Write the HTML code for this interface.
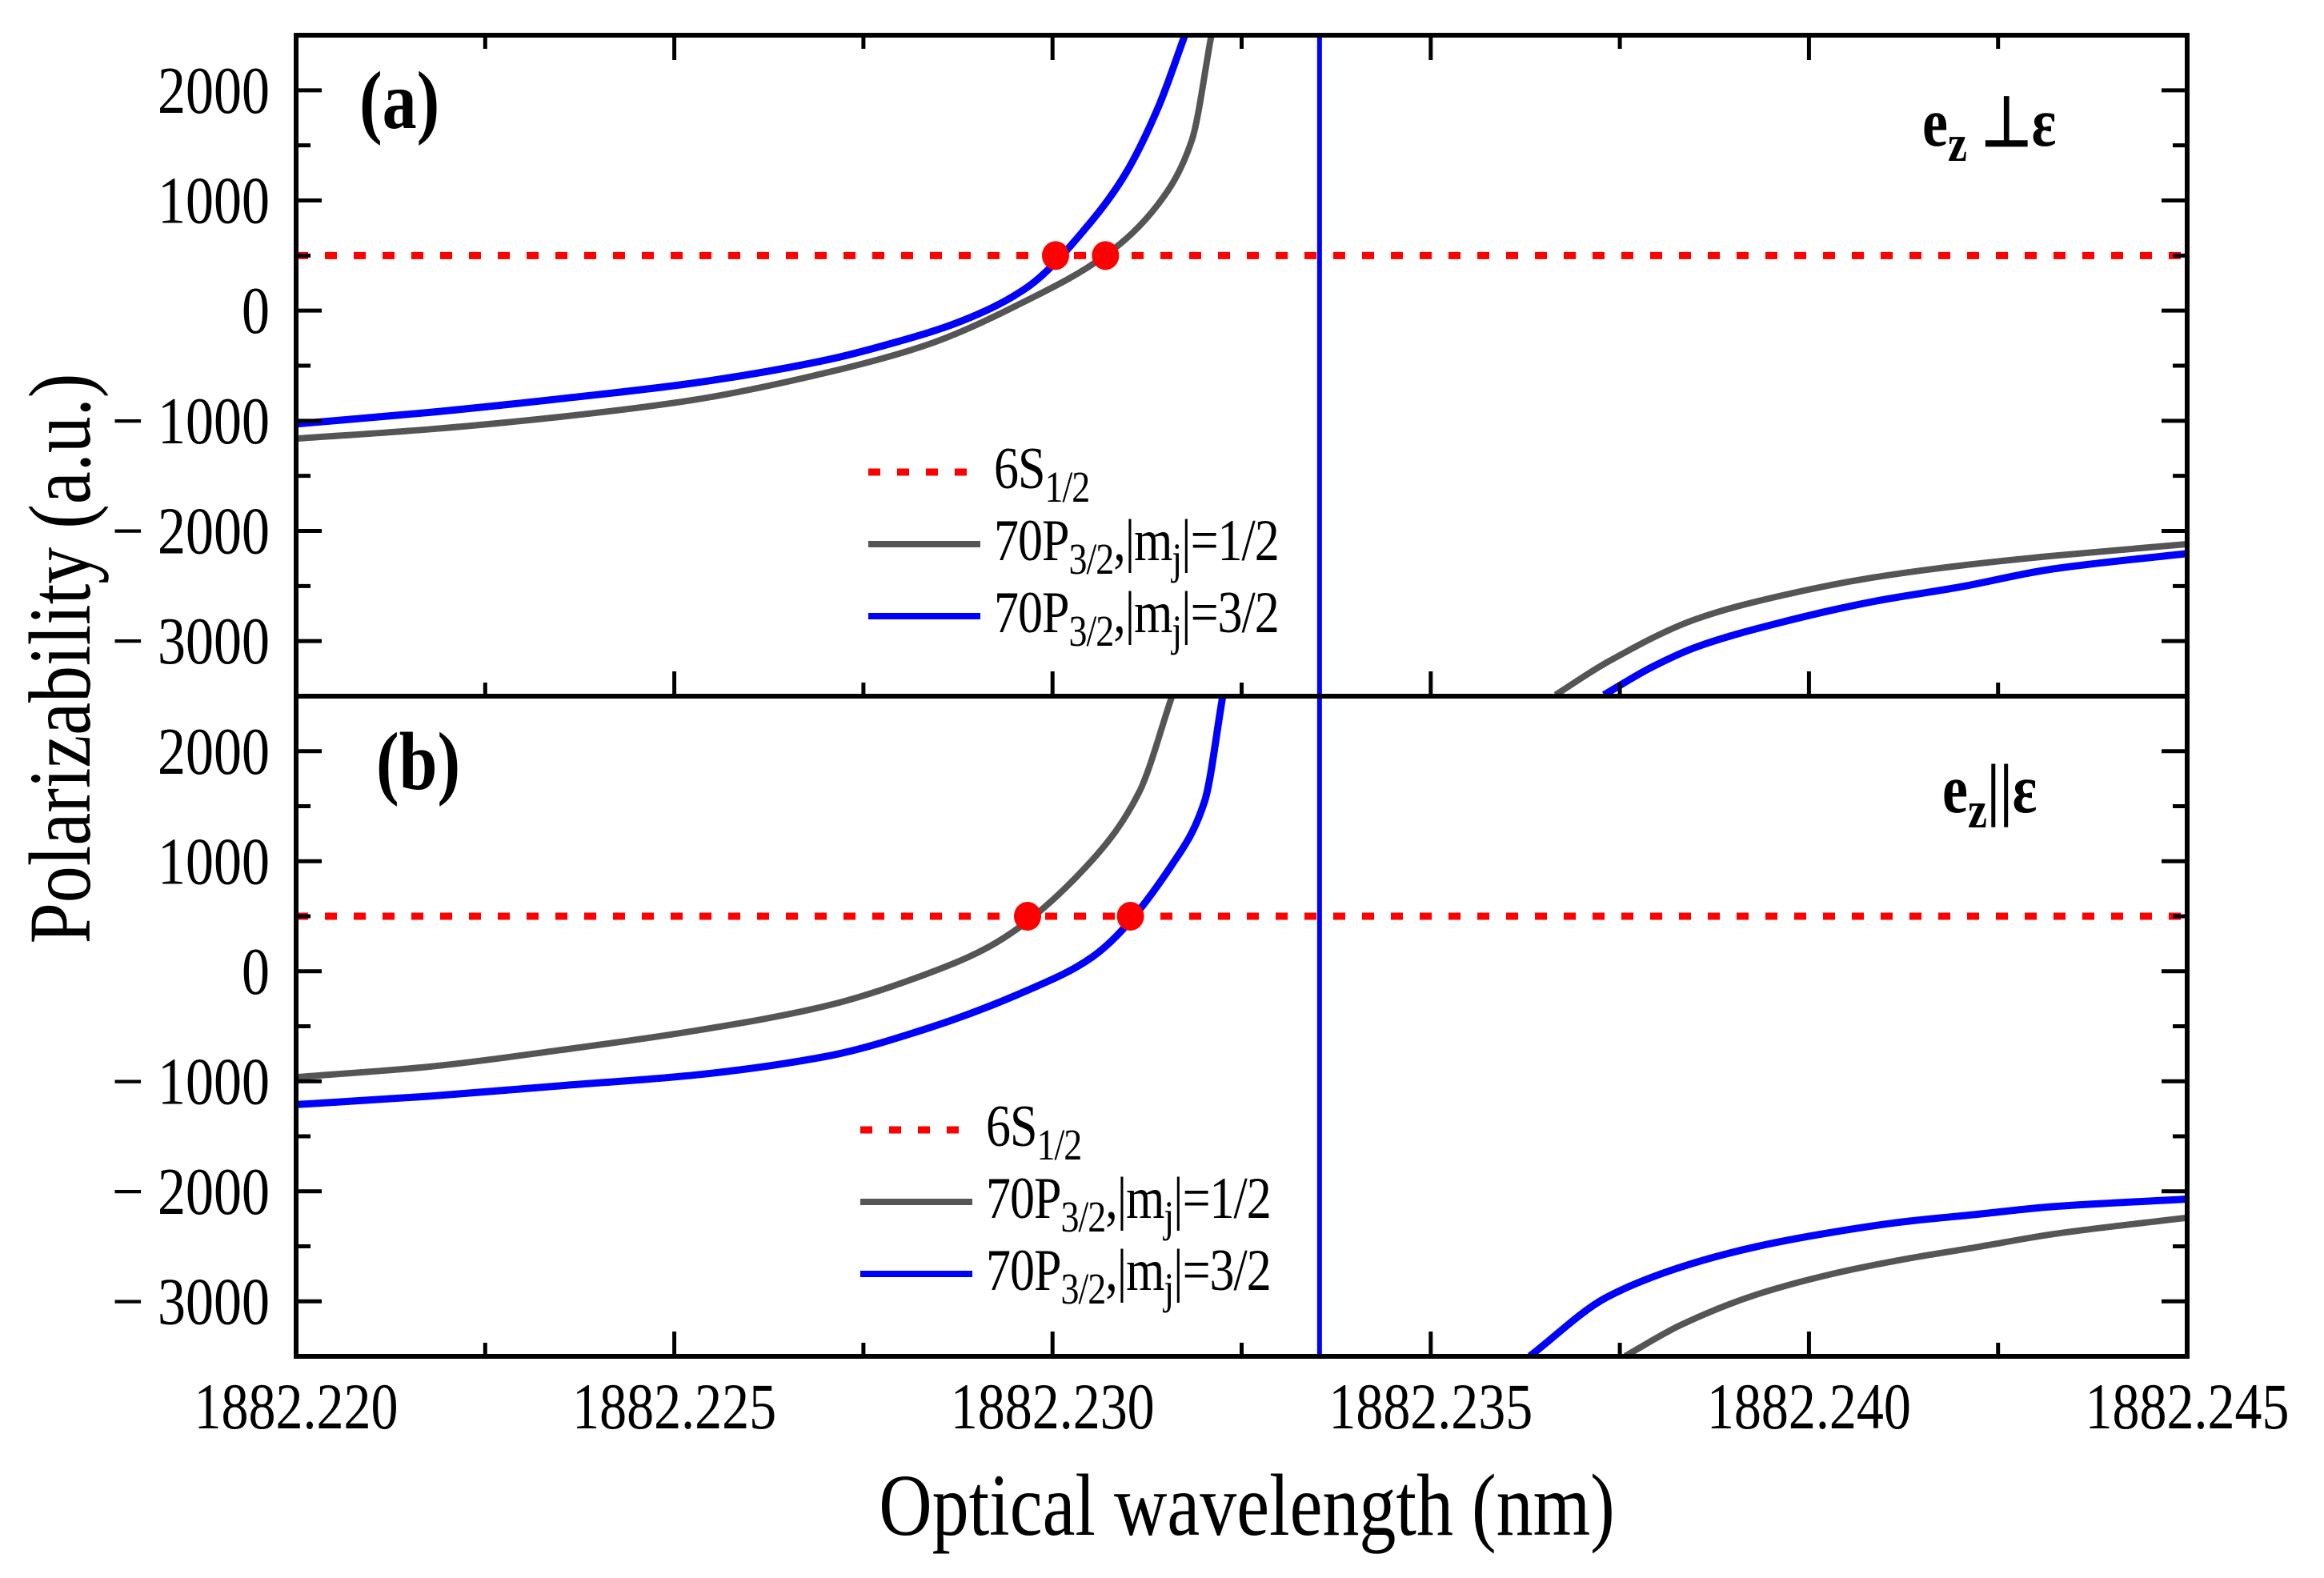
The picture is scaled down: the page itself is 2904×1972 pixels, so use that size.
<!DOCTYPE html>
<html><head><meta charset="utf-8"><style>
html,body{margin:0;padding:0;background:#fff;}
svg{display:block;font-family:"Liberation Serif",serif;}
</style></head><body>
<svg id="chart" width="2904" height="1972" viewBox="0 0 2904 1972" xmlns="http://www.w3.org/2000/svg">
<defs>
<clipPath id="clipA"><rect x="370" y="44" width="2363" height="826"/></clipPath>
<clipPath id="clipB"><rect x="370" y="870" width="2363" height="825"/></clipPath>
</defs>
<g id="root"></g>
</svg>
<script>
// ---- data (wavelength offsets from 1882.220 nm, polarizability in a.u.) ----
const xTickLabels = ["1882.220","1882.225","1882.230","1882.235","1882.240","1882.245"];
const xTickValues = [0,0.005,0.010,0.015,0.020,0.025];
const yTickValues = [2000,1000,0,-1000,-2000,-3000];
const yTickLabels = ["2000","1000","0","\u2212 1000","\u2212 2000","\u2212 3000"];
const groundLevel = 500;
const resonanceX = 0.01353;
// panel (a) e_z ⟂ ε
const aGrayLeftX = [0,0.00175,0.00351,0.00526,0.00702,0.00833,0.00965,0.0107,0.0114,0.01184,0.0121];
const aGrayLeftY = [-1162,-1078,-963,-810,-562,-313,89,502,969,1543,2500];
const aBlueLeftX = [0,0.00175,0.00351,0.00526,0.00702,0.00789,0.00877,0.00965,0.01052,0.01096,0.0114,0.01175];
const aBlueLeftY = [-1029,-925,-799,-657,-447,-294,-102,204,816,1237,1849,2500];
const aGrayRightX = [0.01665,0.01735,0.01852,0.01968,0.02085,0.02201,0.02318,0.025];
const aGrayRightY = [-3488,-3185,-2797,-2580,-2423,-2314,-2229,-2120];
const aBlueRightX = [0.01729,0.01793,0.01852,0.01968,0.02085,0.02201,0.02318,0.025];
const aBlueRightY = [-3488,-3234,-3052,-2822,-2641,-2507,-2350,-2205];
const aDotsX = [0.01004,0.0107];
// panel (b) e_z ∥ ε
const bGrayLeftX = [0,0.00175,0.00351,0.00526,0.00702,0.00833,0.00921,0.01052,0.01114,0.01158];
const bGrayLeftY = [-963,-868,-715,-542,-313,-26,242,1007,1620,2500];
const bBlueLeftX = [0,0.00175,0.00351,0.00526,0.00702,0.00833,0.00965,0.01052,0.01158,0.01201,0.01225];
const bBlueLeftY = [-1212,-1136,-1040,-944,-772,-523,-179,127,969,1543,2500];
const bGrayRightX = [0.01757,0.01831,0.0193,0.02027,0.02125,0.02224,0.02321,0.025];
const bGrayRightY = [-3498,-3214,-2940,-2757,-2619,-2505,-2391,-2240];
const bBlueRightX = [0.01631,0.01733,0.01831,0.0193,0.02027,0.02125,0.02224,0.02321,0.025];
const bBlueRightY = [-3498,-2962,-2688,-2504,-2377,-2277,-2208,-2140,-2071];
const bDotsX = [0.00967,0.01103];

const NS="http://www.w3.org/2000/svg";
const root=document.getElementById('root');
const L=370,R=2733;
function xs(v){return L+(v/0.025)*(R-L);}
function mkY(top,bot){return v=>top+(2500-v)/6000*(bot-top);}
function el(tag,attrs,parent){const e=document.createElementNS(NS,tag);for(const k in attrs)e.setAttribute(k,attrs[k]);(parent||root).appendChild(e);return e;}
// monotone cubic (Fritsch–Carlson) in pixel space
function pathD(X,Y,ys){
  const px=X.map(xs), py=Y.map(ys), n=px.length;
  const d=[],m=new Array(n);
  for(let i=0;i<n-1;i++) d.push((py[i+1]-py[i])/(px[i+1]-px[i]));
  m[0]=d[0]; m[n-1]=d[n-2];
  for(let i=1;i<n-1;i++){
    if(d[i-1]*d[i]<=0) m[i]=0;
    else { const h0=px[i]-px[i-1],h1=px[i+1]-px[i];
      const w1=2*h1+h0,w2=h1+2*h0; m[i]=(w1+w2)/(w1/d[i-1]+w2/d[i]); }
  }
  let s="M"+px[0]+","+py[0];
  for(let i=0;i<n-1;i++){
    const h=px[i+1]-px[i];
    s+=" C"+(px[i]+h/3)+","+(py[i]+m[i]*h/3)+" "+(px[i+1]-h/3)+","+(py[i+1]-m[i+1]*h/3)+" "+px[i+1]+","+py[i+1];
  }
  return s;
}
function stretched(x,y,attrs,content,name,parent,html){
  const t=el('text',Object.assign({x:0,y:0,transform:'translate('+x+','+y+') scale(1,1.2)'},attrs),parent);
  if(html) t.innerHTML=content; else t.textContent=content;
  
  
  return t;
}
function panel(id,top,bot,series,dots,label,labelY,polText,polX,polY,legX,legY,topTicks){
  const ys=mkY(top,bot);
  const g=el('g',{'clip-path':'url(#clip'+id+')'});
  
  
  const red=el('line',{x1:L,x2:R,y1:ys(groundLevel),y2:ys(groundLevel),stroke:'#ff0000','stroke-width':9,'stroke-dasharray':'15 21'},g);
  
  
  const vl=el('line',{x1:xs(resonanceX),x2:xs(resonanceX),y1:ys(2500),y2:ys(-3500),stroke:'#0000ff','stroke-width':6},g);
  
  
  series.forEach(s=>{
    const p=el('path',{d:pathD(s.x,s.y,ys),fill:'none',stroke:s.c,'stroke-width':s.w},g);
    
    
  });
  dots.forEach(dx=>{
    const c=el('ellipse',{cx:xs(dx),cy:ys(groundLevel),rx:17,ry:18,fill:'#ff0000'},g);
    
    
  });
  const fr=el('rect',{x:L,y:top,width:R-L,height:bot-top,fill:'none',stroke:'#000','stroke-width':6});
  
  
  for(let i=0;i<=10;i++){
    const x=xs(i*0.0025),len=i%2===0?31:17;
    const t=el('line',{x1:x,x2:x,y1:bot,y2:bot-len,stroke:'#000','stroke-width':5});
    
    
    if(topTicks){
      const t2=el('line',{x1:x,x2:x,y1:top,y2:top+len,stroke:'#000','stroke-width':5});
      
      
    }
  }
  for(let v=-3000;v<=2000;v+=500){
    const y=ys(v),len=(v%1000===0)?32:18;
    const t=el('line',{x1:L,x2:L+len,y1:y,y2:y,stroke:'#000','stroke-width':5});
    
    
    const t2=el('line',{x1:R,x2:R-len,y1:y,y2:y,stroke:'#000','stroke-width':5});
    
    
  }
  yTickValues.forEach((v,i)=>{
    stretched(337,ys(v)+28,{'text-anchor':'end','font-size':70},yTickLabels[i],'y-tick-label');
  });
  stretched(label[1],labelY,{'font-size':86,'font-weight':'bold'},label[0],'panel-label');
  stretched(polX,polY,{'font-size':72,'font-weight':'bold'},polText,'polarization-label',null,true);
  const lg=el('g',{});
  
  
  const rows=[['#ff0000','15 21',9,'6S','<tspan dy="14" font-size="46">1/2</tspan>'],
              ['#555555','',8,'70P','<tspan dy="14" font-size="46">3/2</tspan><tspan dy="-14">,|m</tspan><tspan dy="14" font-size="46">j</tspan><tspan dy="-14">|=1/2</tspan>'],
              ['#0000ff','',8,'70P','<tspan dy="14" font-size="46">3/2</tspan><tspan dy="-14">,|m</tspan><tspan dy="14" font-size="46">j</tspan><tspan dy="-14">|=3/2</tspan>']];
  rows.forEach((r,i)=>{
    const y=legY+i*90;
    const ln=el('line',{x1:legX,x2:legX+140,y1:y,y2:y,stroke:r[0],'stroke-width':r[2],'stroke-dasharray':r[1]},lg);
    
    
    stretched(legX+157,y+20,{'font-size':62,'letter-spacing':'-1'},r[3]+r[4],'legend-entry',lg,true);
  });
}
panel('A',44,870,[
  {x:aGrayLeftX,y:aGrayLeftY,c:'#555555',w:8,n:'series-mj-1-2-left'},
  {x:aBlueLeftX,y:aBlueLeftY,c:'#0000ff',w:9,n:'series-mj-3-2-left'},
  {x:aGrayRightX,y:aGrayRightY,c:'#555555',w:8,n:'series-mj-1-2-right'},
  {x:aBlueRightX,y:aBlueRightY,c:'#0000ff',w:9,n:'series-mj-3-2-right'}],
  aDotsX,['(a)',449],160,'e<tspan dy="16" font-size="54">z</tspan><tspan dy="-16"> \u22a5\u03b5</tspan>',2402,182,1085,590,true);
panel('B',870,1695,[
  {x:bGrayLeftX,y:bGrayLeftY,c:'#555555',w:8,n:'series-mj-1-2-left'},
  {x:bBlueLeftX,y:bBlueLeftY,c:'#0000ff',w:9,n:'series-mj-3-2-left'},
  {x:bGrayRightX,y:bGrayRightY,c:'#555555',w:8,n:'series-mj-1-2-right'},
  {x:bBlueRightX,y:bBlueRightY,c:'#0000ff',w:9,n:'series-mj-3-2-right'}],
  bDotsX,['(b)',470],986,'e<tspan dy="16" font-size="54">z</tspan><tspan dy="-16">||\u03b5</tspan>',2427,1015,1075,1412,false);
xTickValues.forEach((v,i)=>{
  stretched(xs(v),1785,{'text-anchor':'middle','font-size':68},xTickLabels[i],'x-tick-label');
});
stretched(1558,1918,{'text-anchor':'middle','font-size':92},'Optical wavelength (nm)','x-axis-title');
const yt=el('text',{x:0,y:0,'text-anchor':'middle','font-size':92,transform:'translate(112,823) rotate(-90) scale(1,1.2)'});
yt.textContent='Polarizability (a.u.)';


</script>
</body></html>
